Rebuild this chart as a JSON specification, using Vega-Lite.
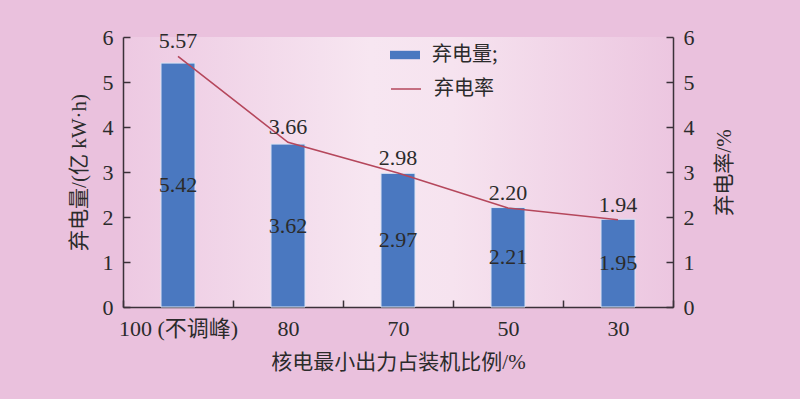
{
  "$schema": "https://vega.github.io/schema/vega-lite/v6.json",
  "width": 550,
  "height": 270,
  "autosize": "none",
  "padding": {"left": 123, "top": 37, "right": 127, "bottom": 92},
  "background": "#eac1dd",
  "config": {
    "font": "Liberation Serif, Noto Sans CJK SC",
    "view": {
      "stroke": null,
      "fill": {
        "gradient": "linear",
        "x1": 0, "y1": 0.5,
        "x2": 1, "y2": 0.5,
        "stops": [
          {"offset": 0, "color": "#edc9e2"},
          {"offset": 0.45, "color": "#f7e6f1"},
          {"offset": 0.6, "color": "#f6e3ef"},
          {"offset": 1, "color": "#ecc6e0"}
        ]
      }
    },
    "axis": {
      "domainColor": "#3b3139",
      "tickColor": "#3b3139",
      "labelColor": "#2b2b2b",
      "titleColor": "#2b2b2b",
      "labelFont": "Liberation Serif, Noto Sans CJK SC",
      "titleFont": "Liberation Serif, Noto Sans CJK SC",
      "labelFontSize": 22,
      "titleFontSize": 21,
      "titleFontWeight": "normal",
      "grid": false,
      "domainWidth": 1.5,
      "tickWidth": 1.5
    },
    "legend": {
      "labelFont": "Noto Sans CJK SC",
      "labelFontSize": 20,
      "labelColor": "#2b2b2b",
      "padding": 0,
      "title": null
    }
  },
  "data": {
    "values": [
      {"ratio": "100 (不调峰)", "energy": 5.42, "rate": 5.57},
      {"ratio": "80", "energy": 3.62, "rate": 3.66},
      {"ratio": "70", "energy": 2.97, "rate": 2.98},
      {"ratio": "50", "energy": 2.21, "rate": 2.20},
      {"ratio": "30", "energy": 1.95, "rate": 1.94}
    ]
  },
  "encoding": {
    "x": {
      "field": "ratio",
      "type": "nominal",
      "sort": null,
      "scale": {"paddingInner": 0, "paddingOuter": 0},
      "axis": {
        "title": "核电最小出力占装机比例/%",
        "labelAngle": 0,
        "tickBand": "extent",
        "tickSize": -7,
        "labelPadding": 18,
        "titlePadding": 12
      }
    }
  },
  "layer": [
    {
      "layer": [
        {
          "mark": {"type": "bar", "size": 34, "stroke": "#dbe4f5", "strokeWidth": 1},
          "encoding": {
            "y": {
              "field": "energy",
              "type": "quantitative",
              "scale": {"domain": [0, 6]},
              "axis": {
                "title": "弃电量/(亿 kW·h)",
                "orient": "left",
                "tickCount": 6,
                "tickSize": -7,
                "labelPadding": 17,
                "titlePadding": 13
              }
            },
            "fill": {
              "datum": "弃电量;",
              "type": "nominal",
              "scale": {"domain": ["弃电量;"], "range": ["#4a78c0"]},
              "legend": {
                "orient": "none",
                "legendX": 267,
                "legendY": 3,
                "symbolType": "M-1,-0.28H1V0.28H-1Z",
                "symbolSize": 900,
                "symbolStrokeWidth": 0,
                "symbolOpacity": 1,
                "labelOffset": 12
              }
            }
          }
        },
        {
          "mark": {"type": "text", "fontSize": 22, "color": "#2b2b2b", "baseline": "middle"},
          "transform": [{"calculate": "datum.energy / 2", "as": "mid"}],
          "encoding": {
            "y": {"field": "mid", "type": "quantitative"},
            "text": {"field": "energy", "type": "quantitative", "format": ".2f"}
          }
        }
      ]
    },
    {
      "layer": [
        {
          "mark": {"type": "line", "strokeWidth": 1.6},
          "encoding": {
            "y": {
              "field": "rate",
              "type": "quantitative",
              "scale": {"domain": [0, 6]},
              "axis": {
                "title": "弃电率/%",
                "orient": "right",
                "tickCount": 6,
                "tickSize": -7,
                "labelPadding": 17,
                "titleAngle": 270,
                "titlePadding": 40
              }
            },
            "stroke": {
              "datum": "弃电率",
              "type": "nominal",
              "scale": {"domain": ["弃电率"], "range": ["#b5475c"]},
              "legend": {
                "orient": "none",
                "legendX": 267,
                "legendY": 36,
                "symbolType": "stroke",
                "symbolSize": 900,
                "symbolStrokeWidth": 1.5,
                "labelOffset": 12
              }
            }
          }
        },
        {
          "mark": {"type": "text", "fontSize": 22, "color": "#2b2b2b", "baseline": "middle", "dy": -15},
          "encoding": {
            "y": {"field": "rate", "type": "quantitative"},
            "text": {"field": "rate", "type": "quantitative", "format": ".2f"}
          }
        }
      ]
    }
  ],
  "resolve": {"scale": {"y": "independent"}}
}
